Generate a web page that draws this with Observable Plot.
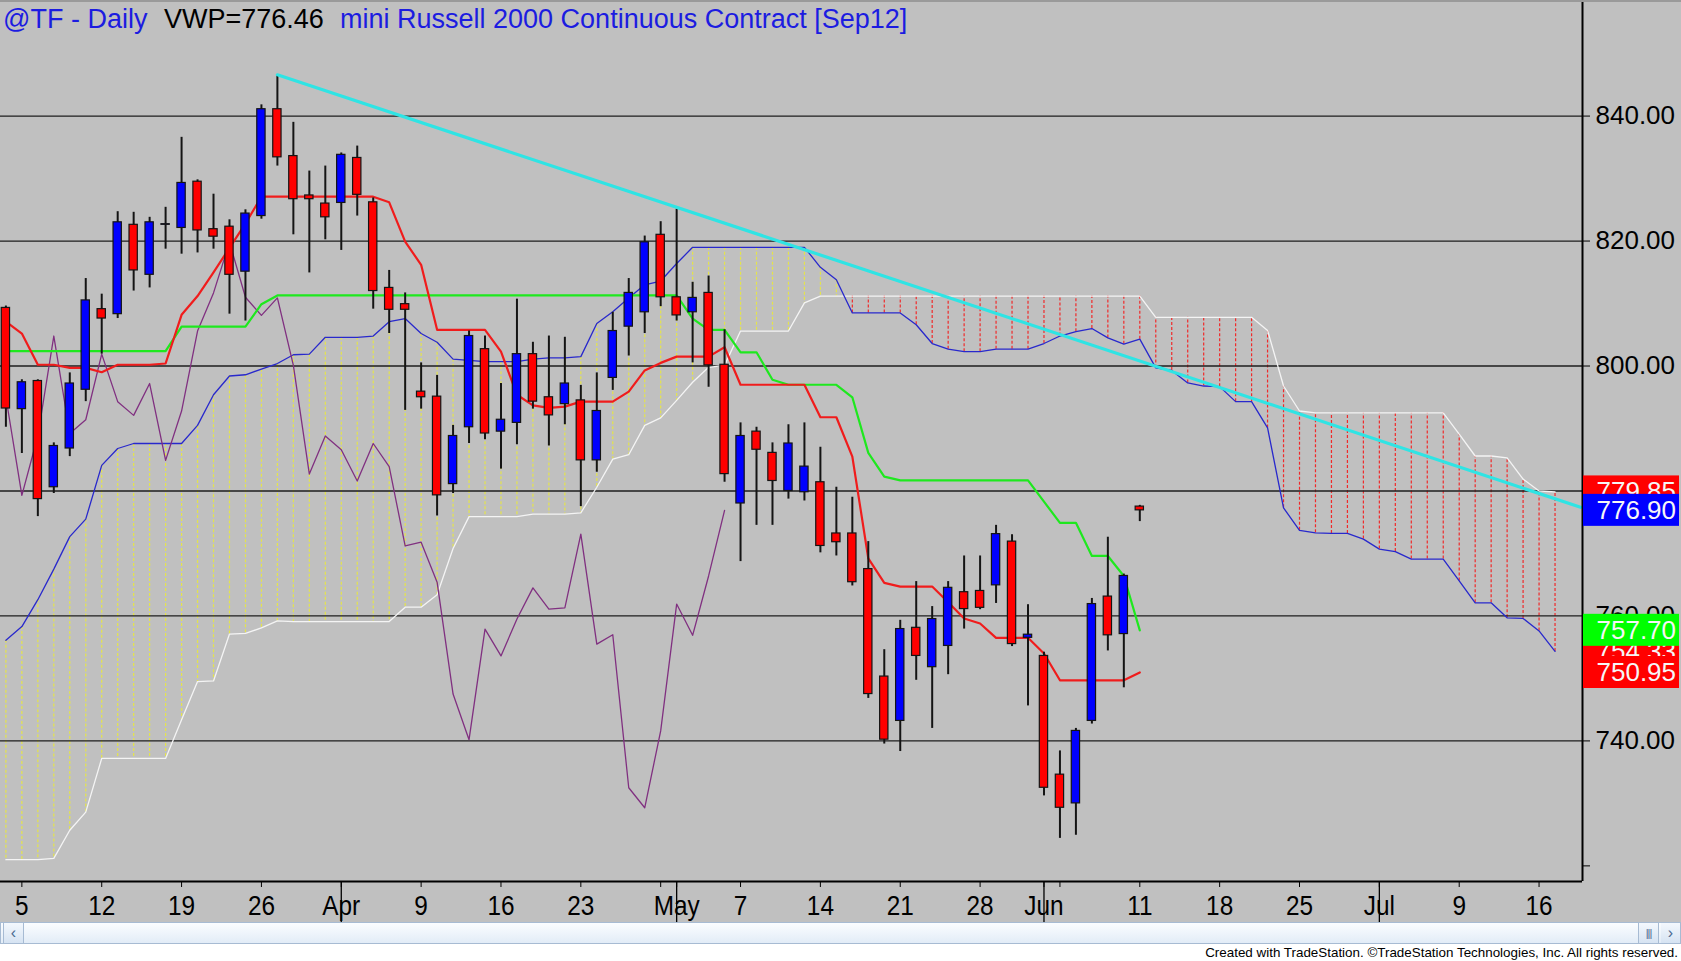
<!DOCTYPE html>
<html>
<head>
<meta charset="utf-8">
<script src="https://cdn.jsdelivr.net/npm/d3@7"></script>
<script src="https://cdn.jsdelivr.net/npm/@observablehq/plot@0.6"></script>
<style>
html,body{margin:0;padding:0;background:#fff;}
#wrap{position:relative;width:1681px;height:961px;overflow:hidden;background:#fff;font-family:"Liberation Sans",Arial,sans-serif;}
#chart{position:absolute;left:0;top:0;}
#topline{position:absolute;left:0;top:0;width:1681px;height:2px;background:#9a9a9a;}
#title{position:absolute;left:0;top:0;width:1500px;height:40px;font-size:27px;line-height:27px;white-space:nowrap;}
#title span{position:absolute;top:6px;}
#scroll{position:absolute;left:0;top:922px;width:1679px;height:20px;border:1px solid #a7bbd3;background:linear-gradient(#fbfdff,#e2ecf7);}
#scroll .btn{position:absolute;top:0;width:19px;height:20px;background:linear-gradient(#f4f8fd,#d6e3f2);border:0 solid #a7bbd3;color:#4a6a90;font-size:16px;line-height:20px;text-align:center;}
#credit{position:absolute;top:944px;right:3px;font-size:13.4px;line-height:17px;color:#000;font-family:"Liberation Sans",Arial,sans-serif;}
</style>
</head>
<body>
<div id="wrap">
  <div id="chart"></div>
  <div id="topline"></div>
  <div id="title"><span style="left:3px;color:#1c1ce0">@TF - Daily</span><span style="left:164px;color:#000">VWP=776.46</span><span style="left:340px;color:#1c1ce0">mini Russell 2000 Continuous Contract [Sep12]</span></div>
  <div id="scroll">
    <div class="btn" style="left:2px;border-right-width:1px;border-left-width:1px">&#8249;</div>
    <div class="btn" style="left:1637px;border-left-width:1px;border-right-width:1px;font-size:11px;letter-spacing:-1px">|||</div>
    <div class="btn" style="left:1660px">&#8250;</div>
  </div>
  <div id="credit">Created with TradeStation. ©TradeStation Technologies, Inc. All rights reserved.</div>
</div>
<script>
// ---- data (daily bars, slot index = trading-day position) ----
const barDates = ["Mar 2","Mar 5","Mar 6","Mar 7","Mar 8","Mar 9","Mar 12","Mar 13","Mar 14","Mar 15","Mar 16","Mar 19","Mar 20","Mar 21","Mar 22","Mar 23","Mar 26","Mar 27","Mar 28","Mar 29","Mar 30","Apr 2","Apr 3","Apr 4","Apr 5","Apr 6","Apr 9","Apr 10","Apr 11","Apr 12","Apr 13","Apr 16","Apr 17","Apr 18","Apr 19","Apr 20","Apr 23","Apr 24","Apr 25","Apr 26","Apr 27","Apr 30","May 1","May 2","May 3","May 4","May 7","May 8","May 9","May 10","May 11","May 14","May 15","May 16","May 17","May 18","May 21","May 22","May 23","May 24","May 25","May 28","May 29","May 30","May 31","Jun 1","Jun 4","Jun 5","Jun 6","Jun 7","Jun 8","Jun 11"];
const open  = [809.3,793.1,797.6,780.6,786.8,796.2,809.1,808.3,822.6,814.6, 822.6,822.1,829.5,821.9,822.3,815.1,824.0,841.1,833.6,827.3, 826.0,826.1,833.3,826.2,812.5,809.9,795.9,795.1,781.1,790.2, 802.7,789.5,790.9,801.9,795.0,793.9,794.5,784.9,798.1,806.3, 808.6,821.0,811.0,808.6,811.7,800.2,778.0,789.5,786.1,780.0, 779.8,781.4,773.2,773.2,767.5,750.3,743.2,758.1,751.8,755.2, 763.8,764.0,764.9,771.9,756.5,753.6,734.6,730.0,743.2,763.1, 757.1,777.5];
const high  = [809.6,797.8,797.8,787.7,798.9,814.0,811.5,824.7,824.6,823.8, 825.4,836.6,829.8,827.5,823.4,825.0,841.8,846.6,839.0,831.2, 832.0,834.1,835.2,826.9,815.3,811.7,800.5,798.5,790.5,805.6, 804.8,797.2,810.7,803.8,804.8,804.6,796.9,798.9,808.6,814.0, 820.8,823.1,825.1,813.4,814.4,805.8,790.9,790.2,787.7,790.6, 790.9,787.0,780.6,779.0,771.9,754.6,759.3,765.5,761.5,765.5, 769.6,769.6,774.5,773.0,761.8,754.2,738.4,742.0,762.8,772.6, 766.7,777.7];
const low   = [790.2,786.0,775.9,779.6,785.5,794.3,801.9,807.6,812.0,812.5, 818.7,817.9,818.1,818.7,808.3,807.2,823.5,832.0,821.0,814.9, 820.2,818.5,824.0,809.1,805.2,792.9,793.1,776.0,779.6,787.6, 788.2,783.5,787.4,793.1,787.2,790.6,777.5,783.0,796.1,801.6, 805.2,809.5,807.2,800.5,796.6,781.4,768.7,774.5,774.5,778.7, 778.4,770.1,769.6,764.8,746.8,739.5,738.3,749.7,742.0,750.6, 757.9,761.0,762.0,755.1,745.6,731.2,724.4,724.9,742.7,754.4, 748.5,775.1];
const close = [793.2,797.4,778.7,787.2,797.2,810.5,807.6,823.0,815.3,823.0, 822.7,829.3,821.7,820.7,814.6,824.4,841.1,833.4,826.7,826.7, 823.8,833.8,827.4,812.0,809.0,809.0,795.0,779.3,788.8,804.8, 789.2,791.4,801.9,794.3,792.1,797.2,784.9,792.8,805.6,811.7, 819.8,811.0,808.1,810.9,800.1,782.7,788.8,786.6,781.6,787.6, 783.9,771.2,771.8,765.4,747.5,740.2,757.9,753.6,759.5,764.5, 761.1,761.3,773.1,755.5,757.0,732.5,729.3,741.6,761.9,756.9, 766.4,776.9];

// Ichimoku lines
const tenkan = [807.1,805.2,800.2,800.2,799.7,799.7,799.0,800.2,800.2,800.2, 800.4,808.2,811.2,815.0,818.9,822.8,827.1,827.1,827.1,827.1, 827.1,827.1,827.1,827.1,826.2,819.9,816.2,805.8,805.8,805.8, 805.8,802.3,795.4,793.7,793.3,793.5,794.3,794.3,794.3,795.9, 799.3,800.5,801.5,801.5,801.5,803.0,797.0,797.0,797.0,797.0, 797.0,791.8,791.8,785.5,769.2,765.3,764.7,764.7,764.7,762.2, 759.6,758.8,756.5,756.5,756.5,754.0,749.7,749.7,749.7,749.7, 749.7,750.95];
const kijun  = [802.4,802.4,802.4,802.4,802.4,802.4,802.4,802.4,802.4,802.4, 802.4,806.3,806.3,806.3,806.3,806.3,809.9,811.3,811.3,811.3, 811.3,811.3,811.3,811.3,811.3,811.3,811.3,811.3,811.3,811.3, 811.3,811.3,811.3,811.3,811.3,811.3,811.3,811.3,811.3,811.3, 811.3,811.3,811.3,807.6,805.8,805.8,802.2,802.2,797.8,797.0, 797.0,797.0,797.0,795.0,786.1,782.3,781.7,781.7,781.7,781.7, 781.7,781.7,781.7,781.7,781.7,778.3,774.9,774.9,769.6,769.6, 766.4,757.7];
const senkouA = [756.1,758.3,762.6,767.5,772.7,775.5,784.1,786.8,787.6,787.6, 787.6,787.6,790.5,795.4,798.4,798.6,799.5,800.4,801.8,801.9, 804.6,804.6,804.6,804.8,807.1,807.6,805.2,803.8,801.1,800.9, 800.7,800.7,800.7,801.1,801.3,801.3,801.5,806.8,808.7,810.9, 813.0,813.6,816.4,819.0,819.0,819.0,819.0,819.0,819.0,819.0, 819.0,815.8,813.8,808.5,808.5,808.5,808.5,806.6,803.6,802.7, 802.3,802.3,802.7,802.7,802.7,803.6,804.8,805.5,806.0,804.5, 803.5,804.3,799.7,799.3,797.3,796.8,796.7,794.3,794.3,790.1, 777.3,773.7,773.3,773.2,773.2,772.3,770.7,770.3,769.1,769.1, 769.1,765.6,762.1,762.1,759.7,759.6,757.6,754.33];
const senkouB = [721.0,721.0,721.0,721.2,725.7,728.6,737.2,737.2,737.2,737.2, 737.2,743.4,749.5,749.6,757.1,757.2,758.1,759.2,759.1,759.1, 759.1,759.1,759.1,759.1,759.1,761.4,761.4,763.4,770.8,775.9, 775.9,775.9,775.9,776.3,776.3,776.3,776.5,780.6,785.1,785.8, 790.5,791.7,794.5,797.4,799.8,800.1,805.6,805.6,805.6,805.6, 810.1,811.2,811.2,811.2,811.2,811.2,811.2,811.2,811.2,811.2, 811.2,811.2,811.2,811.2,811.2,811.2,811.2,811.2,811.2,811.2, 811.2,811.2,807.8,807.8,807.8,807.8,807.8,807.8,807.8,805.7, 796.8,792.8,792.5,792.5,792.5,792.5,792.5,792.5,792.5,792.5, 792.5,789.1,785.6,785.6,785.3,781.9,780.0,779.85];
const chikouShift = 26;

// cyan trend line end points (slot, price)
const trendSlots  = [17, 98.6];
const trendValues = [846.6, 777.4];

// axes
const gridValues  = [740, 760, 780, 800, 820, 840];
const yTicks      = [720, 740, 760, 780, 800, 820, 840];
const yTickLabels = ["", "740.00", "760.00", "780.00", "800.00", "820.00", "840.00"];
const xTickSlots  = [1, 6, 11, 16, 21, 26, 31, 36, 41, 42, 46, 51, 56, 61, 65, 66, 71, 76, 81, 86, 91, 96];
const xTickLabels = ["5","12","19","26","Apr","9","16","23","","May","7","14","21","28","Jun","","11","18","25","Jul","9","16"];
const monthStartSlots = [21, 42, 65, 86];

// last-value tags on the price axis (drawn in this order)
const tagValues = [779.85, 776.90, 754.33, 757.70, 750.95];
const tagColors = ["#ff0000", "#0000ff", "#ff0000", "#00ff00", "#ff0000"];

// ---- build ----
const W = 1681, H = 922, mR = 99, mB = 41;
const xDomain = [-0.338, 98.72];
const yDomain = [717.5, 858.5];
const unitX = (xDomain[1] - xDomain[0]) / (W - mR);
const unitY = (yDomain[1] - yDomain[0]) / (H - mB);

const bars = open.map((o, i) => ({i, date: barDates[i], o, h: high[i], l: low[i], c: close[i]}));
const cloud = senkouA.map((a, i) => ({i, a, b: senkouB[i]}));
const tenkanData = tenkan.map((v, i) => ({i, v}));
const kijunData = kijun.map((v, i) => ({i, v}));
const lagging = close.slice(chikouShift).map((v, k) => ({i: k, v}));
const trend = trendSlots.map((s, k) => ({i: s, v: trendValues[k]}));
const tags = tagValues.map((v, k) => ({v, color: tagColors[k], label: v.toFixed(2)}));

const tagMarks = tags.flatMap(t => [
  Plot.rect([t], {
    x1: () => xDomain[1] + unitX * 1,
    x2: () => xDomain[1] + unitX * 97,
    y1: d => d.v - 16 * unitY,
    y2: d => d.v + 16 * unitY,
    fill: t.color
  }),
  Plot.text([t], {x: () => xDomain[1], y: "v", text: "label", dx: 14, textAnchor: "start", fill: "#f6f6f6", fontSize: 26})
]);

const chart = Plot.plot({
  width: W,
  height: H,
  marginLeft: 0,
  marginRight: mR,
  marginTop: 0,
  marginBottom: mB,
  style: {background: "#c0c0c0", color: "#000", fontFamily: "Liberation Sans, Arial, sans-serif", overflow: "visible"},
  x: {type: "linear", domain: xDomain, label: null},
  y: {type: "linear", domain: yDomain, label: null},
  marks: [
    Plot.ruleX(cloud, {x: "i", y1: "a", y2: "b", stroke: d => d.a >= d.b ? "#e4e44c" : "#f02a2a", strokeWidth: 1.2, strokeDasharray: "3,2"}),
    Plot.ruleY(gridValues, {stroke: "#1e1e1e", strokeWidth: 1.3}),
    Plot.line(cloud, {x: "i", y: "b", stroke: "#f4f4f4", strokeWidth: 1.3}),
    Plot.line(cloud, {x: "i", y: "a", stroke: "#2828cc", strokeWidth: 1.3}),
    Plot.line(lagging, {x: "i", y: "v", stroke: "#803080", strokeWidth: 1.3}),
    Plot.line(kijunData, {x: "i", y: "v", stroke: "#1ee81e", strokeWidth: 2.2}),
    Plot.line(tenkanData, {x: "i", y: "v", stroke: "#f01c1c", strokeWidth: 2.2}),
    Plot.ruleX(bars, {x: "i", y1: "l", y2: "h", stroke: "#141414", strokeWidth: 2}),
    Plot.rect(bars, {x1: d => d.i - 0.26, x2: d => d.i + 0.26, y1: "o", y2: "c", fill: d => d.c >= d.o ? "#0000ff" : "#ff0000", stroke: "#141414", strokeWidth: 1.2}),
    Plot.line(trend, {x: "i", y: "v", stroke: "#2fe4e4", strokeWidth: 3.2}),
    Plot.ruleX([xDomain[1]], {stroke: "#000", strokeWidth: 2}),
    Plot.ruleY([yDomain[0]], {stroke: "#000", strokeWidth: 2}),
    Plot.ruleX(monthStartSlots, {x: d => d, y1: () => yDomain[0], y2: () => yDomain[0] - 41 * unitY, stroke: "#000", strokeWidth: 1.3}),
    Plot.axisY(yTicks, {anchor: "right", label: null, tickSize: 7, tickPadding: 6, fontSize: 26, tickFormat: d => yTickLabels[yTicks.indexOf(d)]}),
    Plot.axisX(xTickSlots, {anchor: "bottom", label: null, tickSize: 6, tickPadding: 8, fontSize: 28, tickFormat: d => xTickLabels[xTickSlots.indexOf(d)]}),
    ...tagMarks
  ]
});
// condense the date labels horizontally, as in the reference
d3.select(chart).selectAll("g[aria-label='x-axis tick label'] text").each(function () {
  const t = this.getAttribute("transform") || "";
  this.setAttribute("transform", t + " scale(0.87,1)");
});
d3.select(chart).selectAll("g[aria-label='x-axis tick label']").each(function () {
  const t = this.getAttribute("transform");
  if (!t) return;
});
document.getElementById("chart").appendChild(chart);
</script>
</body>
</html>
